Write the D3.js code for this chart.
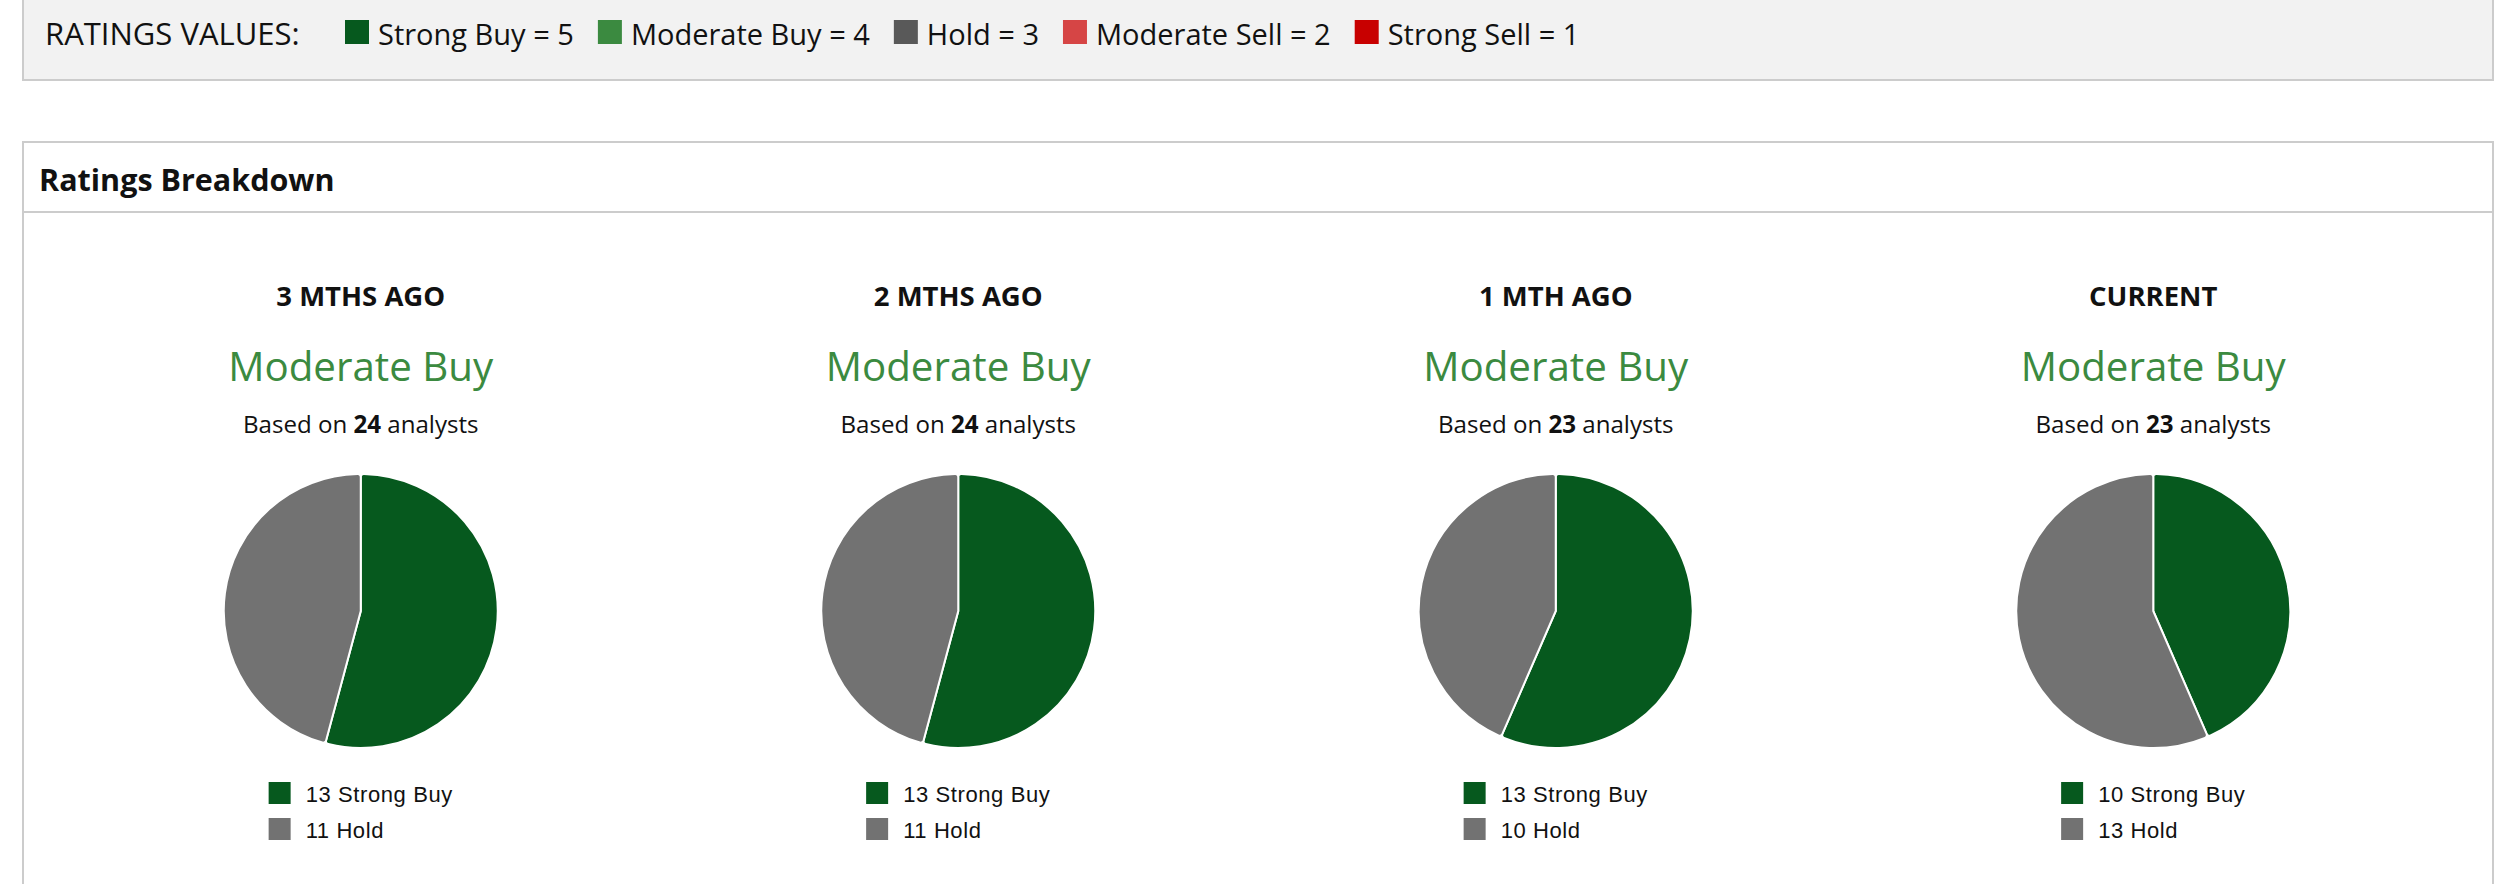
<!DOCTYPE html>
<html>
<head>
<meta charset="utf-8">
<script src="https://cdn.jsdelivr.net/npm/d3@7"></script>
<style>
  body { margin: 0; background: #fff; }
  svg { display: block; }
</style>
</head>
<body>
<svg id="chart"></svg>
<script>
// rating scale shown in the top strip
const ratingNames = ["Strong Buy", "Moderate Buy", "Hold", "Moderate Sell", "Strong Sell"];
const ratingValues = [5, 4, 3, 2, 1];
const ratingColors = ["#06591e", "#3b8a40", "#595959", "#d64545", "#c80000"];

// breakdown per period
const periods = ["3 MTHS AGO", "2 MTHS AGO", "1 MTH AGO", "CURRENT"];
const consensus = ["Moderate Buy", "Moderate Buy", "Moderate Buy", "Moderate Buy"];
const strongBuyCounts = [13, 13, 13, 10];
const holdCounts = [11, 11, 10, 13];

const segmentNames = ["Strong Buy", "Hold"];
const segmentColors = ["#06591e", "#727272"];

const W = 2506, H = 884;
const svg = d3.select("#chart").attr("width", W).attr("height", H);
const FONT = "'Open Sans', 'Noto Sans', sans-serif";

// top strip
svg.append("rect")
  .attr("x", 23).attr("y", -4).attr("width", 2470).attr("height", 84)
  .attr("fill", "#f2f2f2").attr("stroke", "#cccccc").attr("stroke-width", 2);

svg.append("text")
  .attr("x", 45).attr("y", 45)
  .attr("font-family", FONT).attr("font-size", 31)
  .attr("fill", "#111")
  .text("RATINGS VALUES:");

let lx = 345;
ratingNames.forEach((name, i) => {
  svg.append("rect")
    .attr("x", lx).attr("y", 20).attr("width", 24).attr("height", 24)
    .attr("fill", ratingColors[i]);
  const t = svg.append("text")
    .attr("x", lx + 33).attr("y", 45)
    .attr("font-family", FONT).attr("font-size", 29)
    .attr("fill", "#111")
    .text(`${name} = ${ratingValues[i]}`);
  lx += 33 + t.node().getComputedTextLength() + 24;
});

// breakdown panel
svg.append("rect")
  .attr("x", 23).attr("y", 142).attr("width", 2470).attr("height", 800)
  .attr("fill", "#fff").attr("stroke", "#cccccc").attr("stroke-width", 2);
svg.append("line")
  .attr("x1", 23).attr("x2", 2493).attr("y1", 212).attr("y2", 212)
  .attr("stroke", "#cccccc").attr("stroke-width", 2);
svg.append("text")
  .attr("x", 39).attr("y", 191)
  .attr("font-family", FONT).attr("font-size", 30.5).attr("font-weight", 700)
  .attr("fill", "#111")
  .text("Ratings Breakdown");

const x = d3.scaleBand().domain(periods).range([62, 2452]);
const radius = 137;
const pie = d3.pie().sort(null).value((d) => d.count);
const arc = d3.arc().innerRadius(0).outerRadius(radius).cornerRadius(3);

periods.forEach((p, i) => {
  const cx = x(p) + x.bandwidth() / 2;
  const segs = [strongBuyCounts[i], holdCounts[i]].map((count, j) => ({
    name: segmentNames[j], color: segmentColors[j], count
  })).filter((d) => d.count > 0);
  const total = d3.sum(segs, (d) => d.count);

  const g = svg.append("g");

  g.append("text")
    .attr("x", cx).attr("y", 306).attr("text-anchor", "middle")
    .attr("font-family", FONT).attr("font-size", 27.5).attr("font-weight", 700)
    .attr("fill", "#111")
    .text(p);

  g.append("text")
    .attr("x", cx).attr("y", 381).attr("text-anchor", "middle")
    .attr("font-family", FONT).attr("font-size", 40.3)
    .attr("fill", "#3b8a40")
    .text(consensus[i]);

  const based = g.append("text")
    .attr("x", cx).attr("y", 433).attr("text-anchor", "middle")
    .attr("font-family", FONT).attr("font-size", 24.1)
    .attr("fill", "#111");
  based.append("tspan").text("Based on ");
  based.append("tspan").attr("font-weight", 700).text(total);
  based.append("tspan").text(" analysts");

  g.append("g")
    .attr("transform", `translate(${cx},611)`)
    .selectAll("path")
    .data(pie(segs))
    .join("path")
    .attr("d", arc)
    .attr("fill", (d) => d.data.color)
    .attr("stroke", "#fff")
    .attr("stroke-width", 2);

  // legend under the pie, centred as a block
  const leg = g.append("g");
  const rows = leg.selectAll("g")
    .data(segs)
    .join("g")
    .attr("transform", (d, k) => `translate(0,${782 + k * 36})`);
  rows.append("rect")
    .attr("width", 22).attr("height", 22)
    .attr("fill", (d) => d.color);
  rows.append("text")
    .attr("x", 37).attr("y", 20)
    .attr("font-family", "'Liberation Sans', Arial, Helvetica, sans-serif")
    .attr("font-size", 22)
    .attr("letter-spacing", 0.6)
    .attr("fill", "#111")
    .text((d) => `${d.count} ${d.name}`);
  const maxW = d3.max(rows.selectAll("text").nodes(), (n) => n.getComputedTextLength());
  leg.attr("transform", `translate(${cx - (37 + maxW) / 2},0)`);
});
</script>
</body>
</html>
